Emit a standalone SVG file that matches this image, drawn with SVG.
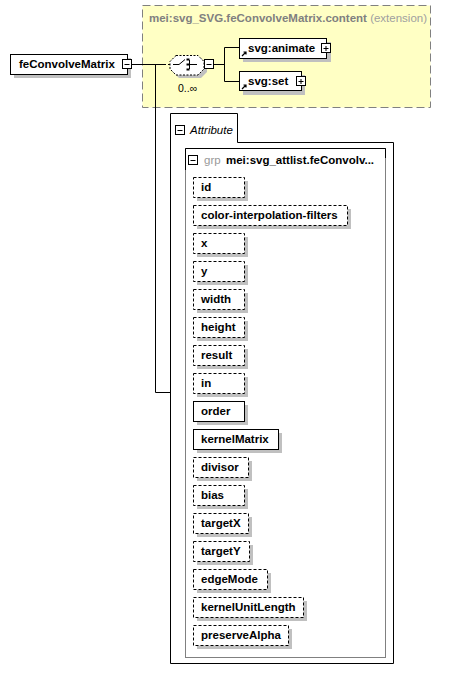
<svg xmlns="http://www.w3.org/2000/svg" width="473" height="681" viewBox="0 0 473 681">
<defs>
<style>
text{font-family:"Liberation Sans",Arial,sans-serif;font-size:11.5px;fill:#000}
.b{font-weight:bold}
.sh{fill:#c0c0c0;stroke:none}
.box{fill:#fff;stroke:#000;stroke-width:1}
.opt{fill:#fff;stroke:#000;stroke-width:1;stroke-dasharray:3,2}
.ln{fill:none;stroke:#000;stroke-width:1}
.btn{fill:#fff;stroke:#000;stroke-width:1}
</style>
<g id="minus"><rect class="btn" x="0.5" y="0.5" width="9" height="9"/><path class="ln" d="M2.5,5.5H7.5"/></g>
<g id="plus"><rect class="btn" x="0.5" y="0.5" width="9" height="9"/><path class="ln" d="M2.5,5.5H7.5M5,3V8"/></g>
<path id="link" d="M1,6 L5,2 M2.5,2 H5 V4.5" fill="none" stroke="#000" stroke-width="1.2"/>
</defs>

<g id="extension">
<rect x="142.5" y="5.5" width="288" height="102" fill="#ffffc4" stroke="#808080" stroke-dasharray="8,4"/>
<text x="149" y="22" class="b" style="fill:#808080">mei:svg_SVG.feConvolveMatrix.content <tspan font-weight="normal" style="fill:#a0a0a0">(extension)</tspan></text>
</g>

<g id="connectors">
<path class="ln" d="M131,64.5H163"/>
<path class="ln" d="M163,64.5H172" stroke-dasharray="3,2"/>
<path class="ln" d="M155.5,64V392.5H170"/>
<path class="ln" d="M214,64.5H224.5M224.5,47.5V81.5M224.5,47.5H239M224.5,81.5H239"/>
</g>

<g id="feConvolveMatrix">
<rect class="sh" x="14" y="58" width="117" height="20"/>
<rect class="box" x="10.5" y="54.5" width="117" height="20"/>
<text x="19" y="68" class="b">feConvolveMatrix</text>
<use href="#minus" x="122" y="59"/>
</g>

<g id="sequence">
<path class="sh" d="M179,58 H201 L207,64 V72 L201,78 H179 L173,72 V64 Z"/>
<path d="M176,55.5 H198 L204,61.5 V69 L198,75 H176 L170,69 V61.5 Z" fill="#fff" stroke="#000" stroke-dasharray="2,1.5"/>
<path class="ln" d="M173,64.5H179L185,59.5M189.5,60V69M190,64.5H197"/>
<rect x="186.5" y="58.5" width="3" height="2" fill="#000"/>
<rect x="186.5" y="63.5" width="3" height="2" fill="#000"/>
<rect x="186.5" y="68.5" width="3" height="2" fill="#000"/>
<use href="#minus" x="204" y="59"/>
<text x="178" y="92" style="font-size:10.5px">0..∞</text>
</g>

<g id="svg_animate">
<rect class="sh" x="243" y="42" width="88" height="20"/>
<rect class="box" x="239.5" y="38.5" width="87" height="20"/>
<use href="#link" x="241" y="50"/>
<text x="248" y="52" class="b">svg:animate</text>
<use href="#plus" x="321" y="43"/>
</g>

<g id="svg_set">
<rect class="sh" x="243" y="75" width="62" height="20"/>
<rect class="box" x="239.5" y="71.5" width="62" height="19"/>
<use href="#link" x="241" y="83"/>
<text x="248" y="85" class="b">svg:set</text>
<use href="#plus" x="296" y="76"/>
</g>

<g id="attributes">
<path class="ln" d="M170.5,663.5V113.5H237.5V142.5H393.5V663.5Z" fill="#fff"/>
<use href="#minus" x="175" y="125"/>
<text x="190" y="134" font-style="italic">Attribute</text>
</g>

<g id="grp">
<rect x="185.5" y="148.5" width="200" height="509" fill="none" stroke="#808080"/>
<path class="ln" d="M185.5,170V148.5H385.5V158"/>
<use href="#minus" x="188" y="155"/>
<text x="204" y="164" style="fill:#999">grp</text>
<text x="226" y="164" class="b">mei:svg_attlist.feConvolv...</text>
</g>

<g id="attr_id"><rect class="sh" x="197" y="181" width="51" height="20"/><rect class="opt" x="193.5" y="177.5" width="51" height="20"/><text x="201" y="191" class="b">id</text></g>
<g id="attr_color-interpolation-filters"><rect class="sh" x="197" y="209" width="154" height="20"/><rect class="opt" x="193.5" y="205.5" width="154" height="20"/><text x="201" y="219" class="b">color-interpolation-filters</text></g>
<g id="attr_x"><rect class="sh" x="197" y="237" width="51" height="20"/><rect class="opt" x="193.5" y="233.5" width="51" height="20"/><text x="201" y="247" class="b">x</text></g>
<g id="attr_y"><rect class="sh" x="197" y="265" width="51" height="20"/><rect class="opt" x="193.5" y="261.5" width="51" height="20"/><text x="201" y="275" class="b">y</text></g>
<g id="attr_width"><rect class="sh" x="197" y="293" width="51" height="20"/><rect class="opt" x="193.5" y="289.5" width="51" height="20"/><text x="201" y="303" class="b">width</text></g>
<g id="attr_height"><rect class="sh" x="197" y="321" width="51" height="20"/><rect class="opt" x="193.5" y="317.5" width="51" height="20"/><text x="201" y="331" class="b">height</text></g>
<g id="attr_result"><rect class="sh" x="197" y="349" width="51" height="20"/><rect class="opt" x="193.5" y="345.5" width="51" height="20"/><text x="201" y="359" class="b">result</text></g>
<g id="attr_in"><rect class="sh" x="197" y="377" width="51" height="20"/><rect class="opt" x="193.5" y="373.5" width="51" height="20"/><text x="201" y="387" class="b">in</text></g>
<g id="attr_order"><rect class="sh" x="197" y="405" width="51" height="20"/><rect class="box" x="193.5" y="401.5" width="51" height="20"/><text x="201" y="415" class="b">order</text></g>
<g id="attr_kernelMatrix"><rect class="sh" x="197" y="433" width="85" height="20"/><rect class="box" x="193.5" y="429.5" width="85" height="20"/><text x="201" y="443" class="b">kernelMatrix</text></g>
<g id="attr_divisor"><rect class="sh" x="197" y="461" width="55" height="20"/><rect class="opt" x="193.5" y="457.5" width="55" height="20"/><text x="201" y="471" class="b">divisor</text></g>
<g id="attr_bias"><rect class="sh" x="197" y="489" width="51" height="20"/><rect class="opt" x="193.5" y="485.5" width="51" height="20"/><text x="201" y="499" class="b">bias</text></g>
<g id="attr_targetX"><rect class="sh" x="197" y="517" width="55" height="20"/><rect class="opt" x="193.5" y="513.5" width="55" height="20"/><text x="201" y="527" class="b">targetX</text></g>
<g id="attr_targetY"><rect class="sh" x="197" y="545" width="56" height="20"/><rect class="opt" x="193.5" y="541.5" width="56" height="20"/><text x="201" y="555" class="b">targetY</text></g>
<g id="attr_edgeMode"><rect class="sh" x="197" y="573" width="74" height="20"/><rect class="opt" x="193.5" y="569.5" width="74" height="20"/><text x="201" y="583" class="b">edgeMode</text></g>
<g id="attr_kernelUnitLength"><rect class="sh" x="197" y="601" width="110" height="20"/><rect class="opt" x="193.5" y="597.5" width="110" height="20"/><text x="201" y="611" class="b">kernelUnitLength</text></g>
<g id="attr_preserveAlpha"><rect class="sh" x="197" y="629" width="95" height="20"/><rect class="opt" x="193.5" y="625.5" width="95" height="20"/><text x="201" y="639" class="b">preserveAlpha</text></g>
</svg>
